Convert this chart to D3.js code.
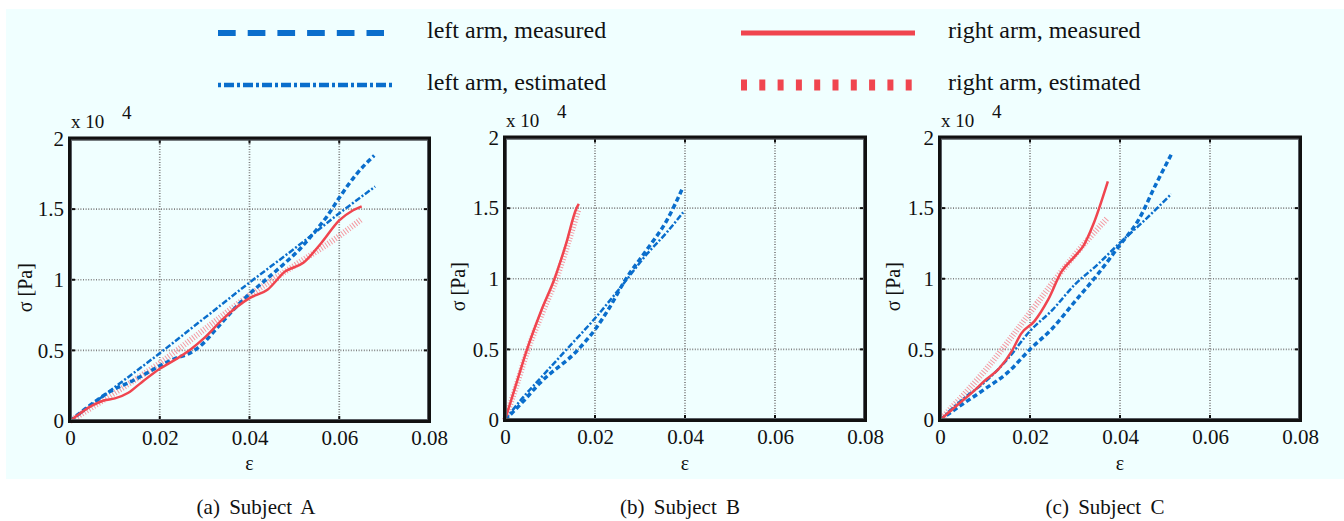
<!DOCTYPE html>
<html>
<head>
<meta charset="utf-8">
<script src="https://cdn.jsdelivr.net/npm/d3@7"></script>
<style>
  body { margin: 0; background: #fff; }
  svg { display: block; }
  svg text { font-family: "Liberation Serif", "Times New Roman", serif; }
</style>
</head>
<body>
<svg id="chart" width="1344" height="521"></svg>
<script>
// ticks shared by the three subjects
const xTicks = [0, 0.02, 0.04, 0.06, 0.08];
const yTicks = [0, 0.5, 1, 1.5, 2];   // x 10^4 Pa

const legendLabels = ['left arm, measured', 'left arm, estimated', 'right arm, measured', 'right arm, estimated'];
const captions = ['(a) Subject A', '(b) Subject B', '(c) Subject C'];

// Subject A  [strain, stress x1e4]
const aLeftMeasured = [[0,0],[0.004,0.1],[0.009,0.21],[0.0143,0.29],[0.02,0.39],[0.024,0.45],[0.026,0.47],[0.029,0.53],[0.0328,0.66],[0.0365,0.79],[0.04,0.9],[0.044,1.01],[0.0476,1.11],[0.0513,1.22],[0.0543,1.33],[0.0573,1.45],[0.0602,1.59],[0.0639,1.75],[0.0678,1.88]];
const aLeftEstimated = [[0,0],[0.01,0.24],[0.02,0.48],[0.03,0.73],[0.04,0.98],[0.05,1.22],[0.06,1.47],[0.068,1.66]];
const aRightMeasured = [[0,0],[0.005,0.11],[0.0075,0.145],[0.01,0.16],[0.013,0.2],[0.016,0.275],[0.02,0.37],[0.024,0.445],[0.027,0.51],[0.03,0.59],[0.034,0.72],[0.04,0.87],[0.044,0.93],[0.048,1.06],[0.052,1.12],[0.056,1.26],[0.06,1.42],[0.063,1.49],[0.065,1.52]];
const aRightEstimated = [[0,0],[0.01,0.2],[0.02,0.41],[0.03,0.65],[0.04,0.89],[0.05,1.1],[0.06,1.31],[0.065,1.43]];

// Subject B
const bLeftMeasured = [[0,0],[0.004,0.13],[0.0077,0.26],[0.0163,0.5],[0.02,0.64],[0.0233,0.8],[0.0267,0.99],[0.0314,1.2],[0.0359,1.41],[0.0393,1.63]];
const bLeftEstimated = [[0,0],[0.004,0.16],[0.0077,0.29],[0.0137,0.5],[0.02,0.72],[0.0267,0.98],[0.0314,1.17],[0.036,1.33],[0.0396,1.47]];
const bRightMeasured = [[0,0],[0.0025,0.255],[0.0049,0.5],[0.008,0.77],[0.011,1.0],[0.0135,1.24],[0.0159,1.5],[0.0164,1.53]];
const bRightEstimated = [[0,0],[0.0026,0.25],[0.0051,0.5],[0.0083,0.76],[0.0114,1.0],[0.0139,1.24],[0.0163,1.49]];

// Subject C
const cLeftMeasured = [[0,0],[0.004,0.09],[0.01,0.22],[0.015,0.335],[0.02,0.5],[0.025,0.65],[0.03,0.84],[0.035,1.03],[0.04,1.24],[0.044,1.41],[0.048,1.67],[0.0514,1.88]];
const cLeftEstimated = [[0,0],[0.005,0.146],[0.01,0.27],[0.015,0.43],[0.02,0.63],[0.025,0.78],[0.03,0.96],[0.035,1.1],[0.04,1.255],[0.045,1.4],[0.0514,1.6]];
const cRightMeasured = [[0,0],[0.004,0.11],[0.007,0.19],[0.01,0.28],[0.013,0.36],[0.016,0.49],[0.018,0.61],[0.021,0.7],[0.024,0.85],[0.027,1.05],[0.03,1.16],[0.032,1.24],[0.034,1.38],[0.0373,1.69]];
const cRightEstimated = [[0,0],[0.005,0.17],[0.01,0.35],[0.015,0.55],[0.02,0.76],[0.025,0.97],[0.03,1.17],[0.0372,1.43]];

const blue = '#0a6ecc', red = '#f0454f', pink = '#f49aa2';
const font = '"Liberation Serif", "Times New Roman", serif';

// line styles: plot stroke and legend stroke
const styles = [
  { color: blue, width: 3.5, dash: '5,3',     lw: 6,   ldash: '17.7,12' },
  { color: blue, width: 2.5, dash: '6,2,2,2', lw: 4.5, ldash: '3,3,10,3' },
  { color: red,  width: 2.5, dash: null,      lw: 5,   ldash: null },
  { color: pink, width: 6,   dash: '1,1.8',   lw: 11,  ldash: '6,12.3', lcolor: red }
];

const panels = [
  { left: 70,  right: 429,  top: 138.5, bottom: 421, ylab: 26,  series: [aLeftMeasured, aLeftEstimated, aRightMeasured, aRightEstimated] },
  { left: 505, right: 865,  top: 137.5, bottom: 420, ylab: 459, series: [bLeftMeasured, bLeftEstimated, bRightMeasured, bRightEstimated] },
  { left: 940, right: 1300, top: 137.5, bottom: 420, ylab: 894, series: [cLeftMeasured, cLeftEstimated, cRightMeasured, cRightEstimated] }
];

const svg = d3.select('#chart').attr('font-family', font);

// light cyan figure background
svg.append('rect')
  .attr('x', 6).attr('y', 9)
  .attr('width', 1338).attr('height', 470)
  .attr('fill', '#f0ffff');

// legend
const legend = svg.append('g');
const legendPos = [
  { x1: 218, x2: 384, y: 33, tx: 427 },
  { x1: 218, x2: 392, y: 85, tx: 427 },
  { x1: 741, x2: 915, y: 33, tx: 948 },
  { x1: 741, x2: 915, y: 85, tx: 948 }
];
legendLabels.forEach((label, i) => {
  const s = styles[i], p = legendPos[i];
  legend.append('line')
    .attr('x1', p.x1).attr('x2', p.x2)
    .attr('y1', p.y).attr('y2', p.y)
    .attr('stroke', s.lcolor || s.color)
    .attr('stroke-width', s.lw)
    .attr('stroke-dasharray', s.ldash);
  legend.append('text')
    .attr('x', p.tx).attr('y', p.y - 3)
    .attr('dy', '0.32em')
    .attr('font-size', 24)
    .attr('fill', '#111')
    .text(label);
});

const fmtX = d => d === 0 ? '0' : d.toFixed(2);
const fmtY = d3.format('~g');

panels.forEach((p, pi) => {
  const x = d3.scaleLinear().domain([0, 0.08]).range([p.left, p.right]);
  const y = d3.scaleLinear().domain([0, 2]).range([p.bottom, p.top]);
  const g = svg.append('g');

  // dotted grid
  g.append('g').selectAll('line')
    .data(xTicks.slice(1, -1))
    .enter().append('line')
      .attr('x1', d => x(d)).attr('x2', d => x(d))
      .attr('y1', p.top).attr('y2', p.bottom)
      .attr('stroke', '#808080').attr('stroke-width', 1.7)
      .attr('stroke-dasharray', '1,1.6');
  g.append('g').selectAll('line')
    .data(yTicks.slice(1, -1))
    .enter().append('line')
      .attr('x1', p.left).attr('x2', p.right)
      .attr('y1', d => y(d)).attr('y2', d => y(d))
      .attr('stroke', '#808080').attr('stroke-width', 1.7)
      .attr('stroke-dasharray', '1,1.6');

  // axes (labels only, ticks drawn inward below)
  const xAxis = g.append('g')
    .attr('transform', `translate(0,${p.bottom})`)
    .call(d3.axisBottom(x).tickValues(xTicks).tickFormat(fmtX).tickSize(0).tickPadding(9));
  const yAxis = g.append('g')
    .attr('transform', `translate(${p.left},0)`)
    .call(d3.axisLeft(y).tickValues(yTicks).tickFormat(fmtY).tickSize(0).tickPadding(6));
  [xAxis, yAxis].forEach(a => {
    a.attr('font-family', font);
    a.select('.domain').remove();
    a.selectAll('text')
      .attr('font-size', 21)
      .attr('fill', '#111');
  });

  // inward tick marks on every side
  const tk = g.append('g').attr('stroke', '#111').attr('stroke-width', 2);
  xTicks.forEach(d => {
    tk.append('line').attr('x1', x(d)).attr('x2', x(d)).attr('y1', p.bottom).attr('y2', p.bottom - 5);
    tk.append('line').attr('x1', x(d)).attr('x2', x(d)).attr('y1', p.top).attr('y2', p.top + 5);
  });
  yTicks.forEach(d => {
    tk.append('line').attr('y1', y(d)).attr('y2', y(d)).attr('x1', p.left).attr('x2', p.left + 5);
    tk.append('line').attr('y1', y(d)).attr('y2', y(d)).attr('x1', p.right).attr('x2', p.right - 5);
  });

  // curves
  const line = d3.line()
    .x(d => x(d[0]))
    .y(d => y(d[1]))
    .curve(d3.curveMonotoneX);
  const order = [3, 1, 0, 2];
  order.forEach(si => {
    const s = styles[si];
    g.append('path')
      .datum(p.series[si])
      .attr('d', line)
      .attr('fill', 'none')
      .attr('stroke', s.color)
      .attr('stroke-width', s.width)
      .attr('stroke-dasharray', s.dash);
  });

  // frame
  g.append('rect')
    .attr('x', p.left).attr('y', p.top)
    .attr('width', p.right - p.left).attr('height', p.bottom - p.top)
    .attr('fill', 'none')
    .attr('stroke', '#111')
    .attr('stroke-width', 4);
  g.append('rect')
    .attr('x', p.left + 1.5).attr('y', p.top + 1.5)
    .attr('width', p.right - p.left - 3).attr('height', p.bottom - p.top - 3)
    .attr('fill', 'none')
    .attr('stroke', '#6a7078')
    .attr('stroke-width', 0.8);

  // exponent
  g.append('text')
    .attr('x', p.left + 1).attr('y', p.top - 11)
    .attr('font-size', 19).attr('fill', '#111')
    .text('x 10');
  g.append('text')
    .attr('x', p.left + 52).attr('y', p.top - 20)
    .attr('font-size', 19).attr('fill', '#111')
    .text('4');

  // axis titles
  g.append('text')
    .attr('x', (p.left + p.right) / 2).attr('y', 464)
    .attr('dy', '0.32em')
    .attr('text-anchor', 'middle')
    .attr('font-size', 20).attr('fill', '#111')
    .text('ε');
  g.append('text')
    .attr('transform', `translate(${p.ylab},${(p.top + p.bottom) / 2 + 8}) rotate(-90)`)
    .attr('dy', '0.32em')
    .attr('text-anchor', 'middle')
    .attr('font-size', 20).attr('fill', '#111')
    .text('σ [Pa]');

  // caption
  svg.append('text')
    .attr('x', [256, 680, 1105][pi]).attr('y', 507)
    .attr('dy', '0.32em')
    .attr('text-anchor', 'middle')
    .attr('font-size', 21)
    .attr('word-spacing', 4)
    .attr('fill', '#111')
    .text(captions[pi]);
});
</script>
</body>
</html>
